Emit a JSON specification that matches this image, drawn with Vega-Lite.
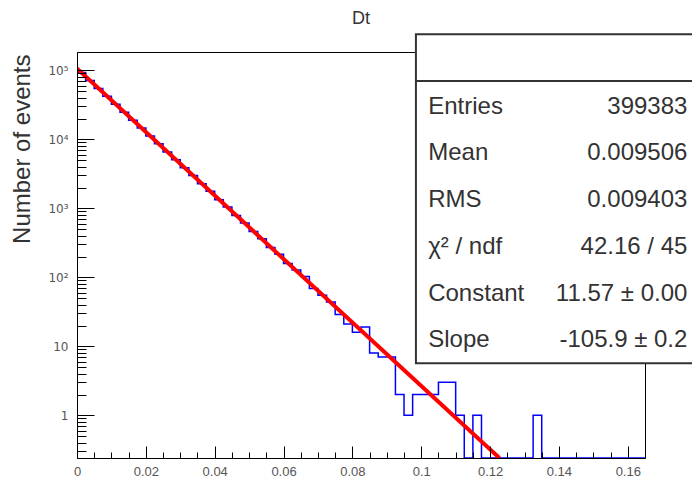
{
  "$schema": "https://vega.github.io/schema/vega-lite/v6.json",
  "width": 568,
  "height": 406,
  "autosize": {"type": "none"},
  "padding": {"left": 77, "top": 52, "right": 47, "bottom": 21},
  "background": "white",
  "config": {
    "font": "Liberation Sans",
    "view": {"stroke": "#000", "strokeWidth": 1},
    "axis": {"grid": false}
  },
  "title": {"text": "Dt", "fontSize": 18, "fontWeight": "normal", "color": "#333", "anchor": "middle", "offset": 5, "font": "Liberation Sans"},
  "datasets": {
    "bins": [
      {"lo": 0.0000, "n": 92690}, {"lo": 0.0025, "n": 71240}, {"lo": 0.0050, "n": 54580}, {"lo": 0.0075, "n": 41950},
      {"lo": 0.0100, "n": 32120}, {"lo": 0.0125, "n": 24730}, {"lo": 0.0150, "n": 18920}, {"lo": 0.0175, "n": 14560},
      {"lo": 0.0200, "n": 11140}, {"lo": 0.0225, "n": 8590}, {"lo": 0.0250, "n": 6551}, {"lo": 0.0275, "n": 5061},
      {"lo": 0.0300, "n": 3858}, {"lo": 0.0325, "n": 2983}, {"lo": 0.0350, "n": 2264}, {"lo": 0.0375, "n": 1762},
      {"lo": 0.0400, "n": 1331}, {"lo": 0.0425, "n": 1040}, {"lo": 0.0450, "n": 785}, {"lo": 0.0475, "n": 612},
      {"lo": 0.0500, "n": 459}, {"lo": 0.0525, "n": 362}, {"lo": 0.0550, "n": 270}, {"lo": 0.0575, "n": 215},
      {"lo": 0.0600, "n": 158}, {"lo": 0.0625, "n": 127}, {"lo": 0.0650, "n": 103}, {"lo": 0.0675, "n": 69},
      {"lo": 0.0700, "n": 55}, {"lo": 0.0725, "n": 44}, {"lo": 0.0750, "n": 29}, {"lo": 0.0775, "n": 21},
      {"lo": 0.0800, "n": 16}, {"lo": 0.0825, "n": 19}, {"lo": 0.0850, "n": 8}, {"lo": 0.0875, "n": 7},
      {"lo": 0.0900, "n": 7}, {"lo": 0.0925, "n": 2}, {"lo": 0.0950, "n": 1}, {"lo": 0.0975, "n": 2},
      {"lo": 0.1000, "n": 2}, {"lo": 0.1025, "n": 2}, {"lo": 0.1050, "n": 3}, {"lo": 0.1075, "n": 3},
      {"lo": 0.1100, "n": 1}, {"lo": 0.1125, "n": 0}, {"lo": 0.1150, "n": 1}, {"lo": 0.1175, "n": 0},
      {"lo": 0.1200, "n": 0}, {"lo": 0.1225, "n": 0}, {"lo": 0.1250, "n": 0}, {"lo": 0.1275, "n": 0},
      {"lo": 0.1300, "n": 0}, {"lo": 0.1325, "n": 1}, {"lo": 0.1350, "n": 0}, {"lo": 0.1375, "n": 0},
      {"lo": 0.1400, "n": 0}, {"lo": 0.1425, "n": 0}, {"lo": 0.1450, "n": 0}, {"lo": 0.1475, "n": 0},
      {"lo": 0.1500, "n": 0}, {"lo": 0.1525, "n": 0}, {"lo": 0.1550, "n": 0}, {"lo": 0.1575, "n": 0},
      {"lo": 0.1600, "n": 0}, {"lo": 0.1625, "n": 0}, {"lo": 0.1650, "n": 0}
    ],
    "fit": [
      {"x": 0.0, "y": 105876},
      {"x": 0.12271, "y": 0.2405}
    ],
    "stats": [
      {"row": 1, "label": "Entries", "value": "399383"},
      {"row": 2, "label": "Mean", "value": "0.009506"},
      {"row": 3, "label": "RMS", "value": "0.009403"},
      {"row": 4, "label": "χ² / ndf", "value": "42.16 / 45"},
      {"row": 5, "label": "Constant", "value": "11.57 ± 0.00"},
      {"row": 6, "label": "Slope", "value": "-105.9 ± 0.2"}
    ]
  },
  "layer": [
    {
      "layer": [
        {
          "data": {"name": "bins"},
          "mark": {"type": "line", "interpolate": "step-after", "color": "#0000ff", "strokeWidth": 1.5, "invalid": "show", "clip": true},
          "encoding": {
            "x": {
              "field": "lo", "type": "quantitative",
              "scale": {"domain": [0, 0.165], "nice": false, "zero": false},
              "axis": {
                "orient": "bottom", "title": null, "zindex": 1,
                "values": [0, 0.02, 0.04, 0.06, 0.08, 0.1, 0.12, 0.14, 0.16],
                "labelExpr": "datum.value == 0 ? '0' : format(datum.value, '.2~f')",
                "tickSize": -12, "tickColor": "#000", "tickWidth": 1,
                "domainColor": "#000", "domainWidth": 1,
                "labelPadding": 19, "labelBaseline": "top", "labelFontSize": 13, "labelColor": "#555",
                "labelFlush": false, "labelOverlap": false
              }
            },
            "y": {
              "field": "n", "type": "quantitative",
              "scale": {"type": "log", "domain": [0.2405, 184000], "nice": false, "clamp": true},
              "axis": {
                "orient": "left", "zindex": 1,
                "title": "Number of events", "titleFontSize": 24, "titleFontWeight": "normal", "titleColor": "#333",
                "titleAngle": 270, "titleAlign": "right", "titleBaseline": "alphabetic", "titleX": -48, "titleY": 2,
                "values": [1, 10, 100, 1000, 10000, 100000],
                "labelExpr": "datum.value == 1 ? '1' : datum.value == 10 ? '10' : datum.value == 100 ? '10²' : datum.value == 1000 ? '10³' : datum.value == 10000 ? '10⁴' : '10⁵'",
                "tickSize": -17, "tickColor": "#000", "tickWidth": 1,
                "domainColor": "#000", "domainWidth": 1,
                "labelPadding": 26, "labelFontSize": 12, "labelFont": "DejaVu Sans", "labelColor": "#555",
                "labelFlush": false, "labelOverlap": false
              }
            }
          }
        },
        {
          "data": {"name": "fit"},
          "mark": {"type": "line", "color": "#ff0000", "strokeWidth": 4, "clip": true},
          "encoding": {
            "x": {
              "field": "x", "type": "quantitative",
              "axis": {
                "orient": "bottom", "title": null, "zindex": 1, "domain": false, "labels": false,
                "values": [0.005, 0.01, 0.015, 0.025, 0.03, 0.035, 0.045, 0.05, 0.055, 0.065, 0.07, 0.075, 0.085, 0.09, 0.095, 0.105, 0.11, 0.115, 0.125, 0.13, 0.135, 0.145, 0.15, 0.155],
                "tickSize": -6, "tickColor": "#000", "tickWidth": 1
              }
            },
            "y": {
              "field": "y", "type": "quantitative",
              "axis": {
                "orient": "left", "title": null, "zindex": 1, "domain": false, "labels": false,
                "values": [0.3, 0.4, 0.5, 0.6, 0.7, 0.8, 0.9, 2, 3, 4, 5, 6, 7, 8, 9, 20, 30, 40, 50, 60, 70, 80, 90, 200, 300, 400, 500, 600, 700, 800, 900, 2000, 3000, 4000, 5000, 6000, 7000, 8000, 9000, 20000, 30000, 40000, 50000, 60000, 70000, 80000, 90000],
                "tickSize": -9, "tickColor": "#000", "tickWidth": 1
              }
            }
          }
        }
      ],
      "resolve": {"axis": {"x": "independent", "y": "independent"}}
    },
    {
      "layer": [
        {
          "data": {"values": [{}]},
          "mark": {"type": "rect", "fill": "#fff", "stroke": "#333", "strokeWidth": 2},
          "encoding": {
            "x": {"datum": 0.5967, "type": "quantitative", "scale": {"domain": [0, 1], "nice": false, "zero": false}, "axis": null},
            "x2": {"datum": 1.1},
            "y": {"datum": -0.697, "type": "quantitative", "scale": {"domain": [-0.318, 8.368], "nice": false, "zero": false, "reverse": true}, "axis": null},
            "y2": {"datum": 6.342}
          }
        },
        {
          "data": {"values": [{}]},
          "mark": {"type": "rule", "stroke": "#333", "strokeWidth": 2},
          "encoding": {
            "x": {"datum": 0.5967, "type": "quantitative"},
            "x2": {"datum": 1.1},
            "y": {"datum": 0.302, "type": "quantitative"}
          }
        },
        {
          "data": {"name": "stats"},
          "mark": {"type": "text", "align": "left", "baseline": "alphabetic", "fontSize": 24, "color": "#333"},
          "encoding": {
            "x": {"datum": 0.6183, "type": "quantitative"},
            "y": {"field": "row", "type": "quantitative"},
            "text": {"field": "label"}
          }
        },
        {
          "data": {"name": "stats"},
          "mark": {"type": "text", "align": "right", "baseline": "alphabetic", "fontSize": 24, "color": "#333"},
          "encoding": {
            "x": {"datum": 1.0746, "type": "quantitative"},
            "y": {"field": "row", "type": "quantitative"},
            "text": {"field": "value"}
          }
        }
      ]
    }
  ],
  "resolve": {"scale": {"x": "independent", "y": "independent"}}
}
